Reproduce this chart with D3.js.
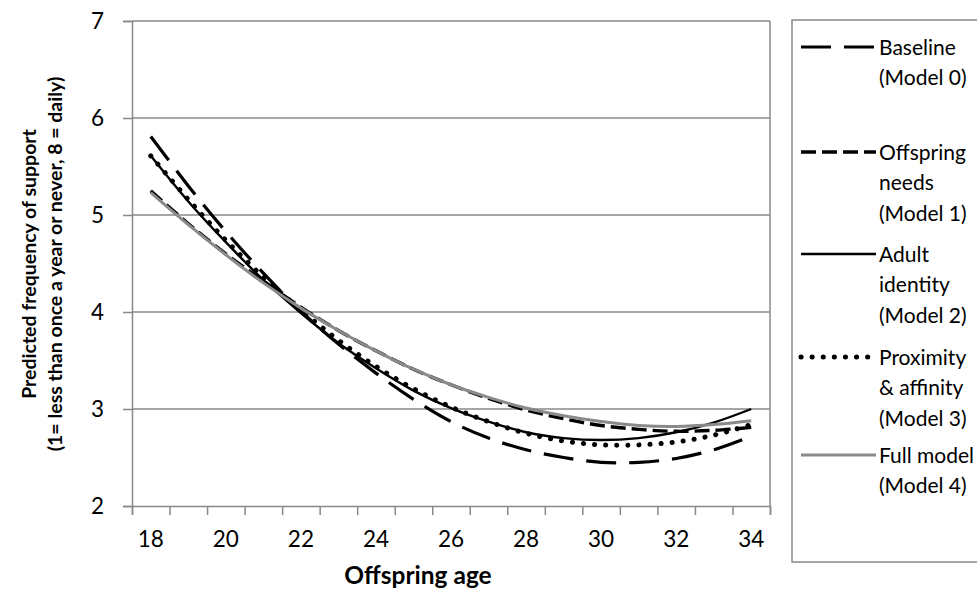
<!DOCTYPE html>
<html><head><meta charset="utf-8">
<script src="https://cdn.jsdelivr.net/npm/d3@7"></script>
<style>body{margin:0;background:#fff}svg{display:block}</style>
</head><body>
<svg id="c" width="977" height="592"></svg>
<script>
const ages = [18,19,20,21,22,23,24,25,26,27,28,29,30,31,32,33,34];
const yTicks = [2,3,4,5,6,7];
const model0 = [5.81,5.30,4.83,4.40,4.01,3.67,3.37,3.10,2.87,2.70,2.58,2.50,2.45,2.45,2.49,2.58,2.72];
const model1 = [5.25,4.91,4.60,4.32,4.05,3.81,3.60,3.41,3.25,3.11,2.99,2.90,2.83,2.79,2.77,2.78,2.81];
const model2 = [5.61,5.14,4.72,4.33,3.99,3.68,3.42,3.19,3.01,2.87,2.76,2.70,2.68,2.70,2.76,2.86,3.00];
const model3 = [5.61,5.16,4.74,4.36,4.02,3.71,3.44,3.21,3.02,2.87,2.75,2.67,2.63,2.63,2.66,2.73,2.84];
const model4 = [5.23,4.90,4.59,4.30,4.04,3.81,3.60,3.41,3.25,3.12,3.01,2.93,2.87,2.83,2.82,2.84,2.88];
const legendLabels = [
  ["Baseline","(Model 0)"],
  ["Offspring","needs","(Model 1)"],
  ["Adult","identity","(Model 2)"],
  ["Proximity","& affinity","(Model 3)"],
  ["Full model","(Model 4)"]
];

const FONT = "Lato, 'Open Sans', sans-serif";
const GRID = "#888888";
const styles = [
  {stroke:"#000", width:3.2, dash:"30 13", cap:"butt"},
  {stroke:"#000", width:3.4, dash:"15 6", cap:"butt"},
  {stroke:"#000", width:2.4, dash:null, cap:"butt"},
  {stroke:"#000", width:5, dash:"0.1 11", cap:"round"},
  {stroke:"#8a8a8a", width:3, dash:null, cap:"butt"}
];
const series = [model0, model1, model2, model3, model4];

const svg = d3.select("#c");
const L = 132, R = 770, T = 21, B = 506;

const x = d3.scaleBand().domain(ages).range([L, R]).padding(0);
const xb = d3.scaleLinear().domain([17.5, 34.5]).range([L, R]);
const y = d3.scaleLinear().domain([2, 7]).range([B, T]);

// gridlines
svg.append("g").selectAll("line").data(yTicks.filter(d => d > 2)).join("line")
  .attr("x1", L).attr("x2", R).attr("y1", d => y(d)).attr("y2", d => y(d))
  .attr("stroke", GRID).attr("stroke-width", 1.5);
// right border
svg.append("line").attr("x1", R).attr("x2", R).attr("y1", T).attr("y2", B)
  .attr("stroke", GRID).attr("stroke-width", 1.5);

// y axis
const gy = svg.append("g").attr("transform", `translate(${L},0)`)
  .call(d3.axisLeft(y).tickValues(yTicks).tickSize(9).tickPadding(19).tickFormat(d3.format("d")));
gy.selectAll("path,line").attr("stroke", GRID).attr("stroke-width", 1.5);
gy.selectAll("text").attr("font-family", FONT).attr("font-size", 22.5).attr("fill", "#000");

// x axis ticks (boundaries)
const gxt = svg.append("g").attr("transform", `translate(0,${B})`)
  .call(d3.axisBottom(xb).tickValues(d3.range(17.5, 34.6, 1)).tickSize(9).tickFormat(""));
gxt.selectAll("path,line").attr("stroke", GRID).attr("stroke-width", 1.5);
// x axis labels
const gx = svg.append("g").attr("transform", `translate(0,${B})`)
  .call(d3.axisBottom(x).tickValues(ages.filter(a => a % 2 === 0)).tickSize(0).tickPadding(25));
gx.select("path").remove();
gx.selectAll("text").attr("font-family", FONT).attr("font-size", 22.5).attr("fill", "#000");

// lines
const line = d3.line()
  .x((d, i) => x(ages[i]) + x.bandwidth() / 2)
  .y(d => y(d))
  .curve(d3.curveCatmullRom.alpha(0.5));
series.forEach((s, i) => {
  const st = styles[i];
  svg.append("path").datum(s).attr("d", line)
    .attr("fill", "none").attr("stroke", st.stroke).attr("stroke-width", st.width)
    .attr("stroke-dasharray", st.dash).attr("stroke-linecap", st.cap);
});

// axis titles
svg.append("text").attr("x", 418).attr("y", 584).attr("text-anchor", "middle")
  .attr("font-family", FONT).attr("font-weight", "bold").attr("font-size", 24.5).text("Offspring age");
const yt = svg.append("text").attr("transform", "translate(0,264) rotate(-90)")
  .attr("text-anchor", "middle").attr("font-family", FONT).attr("font-weight", "bold").attr("font-size", 19.5);
yt.append("tspan").attr("x", 0).attr("y", 36).text("Predicted frequency of support");
yt.append("tspan").attr("x", 0).attr("y", 62).text("(1= less than once a year or never, 8 = daily)");

// legend
svg.append("rect").attr("x", 792).attr("y", 20).attr("width", 220).attr("height", 542)
  .attr("fill", "none").attr("stroke", GRID).attr("stroke-width", 1.5);
const legY = [47, 152, 254, 357, 455];
legendLabels.forEach((lab, i) => {
  const st = styles[i];
  svg.append("line").attr("x1", 801).attr("x2", 876).attr("y1", legY[i]).attr("y2", legY[i])
    .attr("stroke", st.stroke).attr("stroke-width", st.width)
    .attr("stroke-dasharray", st.dash).attr("stroke-linecap", st.cap);
  const t = svg.append("text").attr("font-family", FONT).attr("font-size", 21).attr("fill", "#000");
  lab.forEach((s, j) => {
    t.append("tspan").attr("x", 879).attr("y", legY[i] + 7.5 + j * 30.5).text(s);
  });
});
</script>
</body></html>
